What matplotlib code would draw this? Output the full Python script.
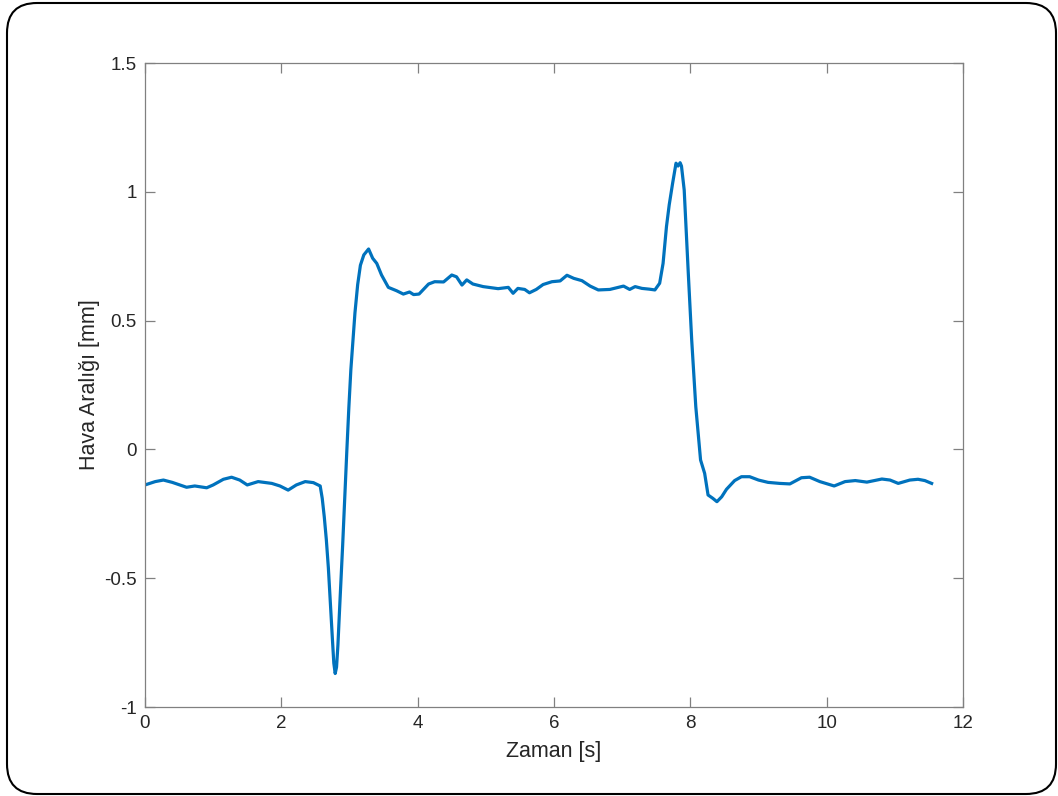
import numpy as np
import matplotlib
matplotlib.use("Agg")
import matplotlib.pyplot as plt
from matplotlib.patches import FancyBboxPatch
from matplotlib.transforms import IdentityTransform

# Hava araligi olcumu (zaman [s], araligi [mm]) - okunan degerler
t = [0.00, 0.15, 0.27, 0.40, 0.61, 0.73, 0.905, 1.00, 1.15, 1.27, 1.39, 1.50,
     1.66, 1.86, 1.98, 2.10, 2.22, 2.35, 2.47, 2.57, 2.60, 2.63, 2.66, 2.69,
     2.72, 2.75, 2.77, 2.79, 2.81, 2.83, 2.86, 2.90, 2.93, 2.96, 2.99, 3.02,
     3.05, 3.08, 3.12, 3.16, 3.21, 3.28, 3.34, 3.40, 3.47,
     3.57, 3.69, 3.79, 3.88, 3.94, 4.02, 4.16, 4.25, 4.38, 4.50, 4.57, 4.65,
     4.72, 4.81, 4.96, 5.18, 5.33, 5.40, 5.47, 5.57, 5.64, 5.74, 5.84, 5.97,
     6.09, 6.19, 6.29, 6.41, 6.53, 6.65, 6.82, 7.02, 7.11, 7.19, 7.29, 7.40,
     7.48, 7.55, 7.60, 7.65, 7.69, 7.74, 7.79, 7.82, 7.85, 7.87, 7.91, 7.97,
     8.02, 8.08, 8.15, 8.21, 8.26, 8.33, 8.39, 8.46, 8.53, 8.65, 8.75, 8.87,
     9.00, 9.14, 9.31, 9.46, 9.63, 9.75, 9.90, 10.11, 10.27, 10.42, 10.59,
     10.81, 10.93, 11.05, 11.22, 11.34, 11.44, 11.54]
gap = [-0.138, -0.125, -0.119, -0.128, -0.147, -0.142, -0.149, -0.138, -0.116,
       -0.108, -0.119, -0.138, -0.125, -0.132, -0.142, -0.158, -0.138, -0.125,
       -0.129, -0.142, -0.190, -0.262, -0.350, -0.460, -0.600, -0.740, -0.830,
       -0.870, -0.845, -0.760, -0.590, -0.370, -0.190, -0.010, 0.160, 0.310,
       0.420, 0.530, 0.640, 0.715, 0.755, 0.778, 0.742, 0.722, 0.677, 0.629,
       0.616, 0.603, 0.611, 0.601, 0.603, 0.642, 0.651, 0.650, 0.677, 0.670,
       0.638, 0.658, 0.642, 0.632, 0.624, 0.629, 0.606, 0.625, 0.621, 0.608,
       0.621, 0.640, 0.651, 0.654, 0.676, 0.664, 0.655, 0.634, 0.619, 0.621,
       0.634, 0.621, 0.632, 0.625, 0.622, 0.619, 0.645, 0.722, 0.865, 0.949,
       1.033, 1.111, 1.100, 1.113, 1.100, 1.007, 0.684, 0.425, 0.166, -0.041,
       -0.093, -0.177, -0.190, -0.203, -0.184, -0.155, -0.121, -0.106, -0.106,
       -0.119, -0.128, -0.132, -0.134, -0.110, -0.108, -0.125, -0.142, -0.125,
       -0.121, -0.127, -0.115, -0.119, -0.132, -0.119, -0.116, -0.121, -0.132]

xticks = [0, 2, 4, 6, 8, 10, 12]
yticks = [-1, -0.5, 0, 0.5, 1, 1.5]
ylabels = ['-1', '-0.5', '0', '0.5', '1', '1.5']

plt.rcParams['font.family'] = ['Liberation Sans', 'DejaVu Sans']

fig = plt.figure(figsize=(10.58, 7.96), dpi=100)
ax = fig.add_axes([145/1058, 1 - 707/796, (963 - 145)/1058, (707 - 63)/796])

ax.plot(t, gap, color='#0072BD', linewidth=2.3)

ax.set_xlim(0, 12)
ax.set_ylim(-1, 1.5)
ax.set_xticks(xticks)
ax.set_xticklabels([str(v) for v in xticks])
ax.set_yticks(yticks)
ax.set_yticklabels(ylabels)

for s in ax.spines.values():
    s.set_color('#808080')
    s.set_linewidth(0.9)
ax.tick_params(direction='in', length=7, width=0.9, color='#808080',
               labelsize=13.5, labelcolor='#262626', top=True, right=True, pad=6)

ax.set_xlabel('Zaman [s]', fontsize=15.5, color='#262626', labelpad=6)
ax.set_ylabel('Hava Aralığı [mm]', fontsize=15.5, color='#262626', labelpad=3)

# yuvarlak koseli cerceve
frame = FancyBboxPatch((7, 2), 1049, 791, boxstyle='round,pad=0,rounding_size=30',
                       transform=IdentityTransform(), fill=False,
                       edgecolor='black', linewidth=1.5)
fig.patches.append(frame)

fig.savefig('out.png', dpi=100)
